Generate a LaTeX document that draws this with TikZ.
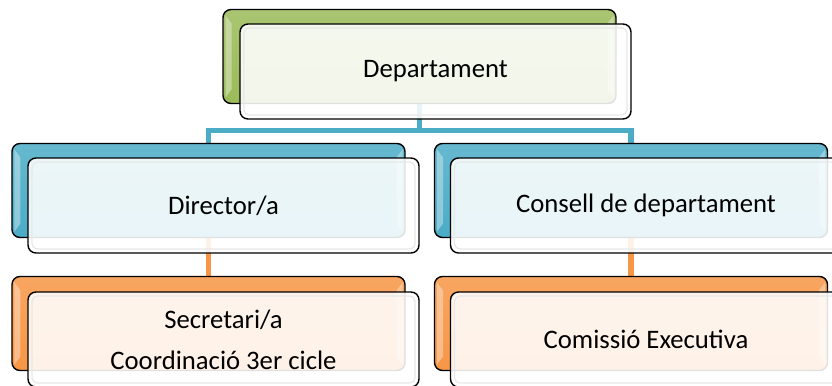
\documentclass[tikz,border=0pt]{standalone}
\usepackage{fontspec}
\setmainfont{Carlito}
\usetikzlibrary{calc,backgrounds}
\definecolor{cgreen}{HTML}{9BBB59}
\definecolor{cblue}{HTML}{4BACC6}
\definecolor{corange}{HTML}{F79646}
\tikzset{
  backbox/.style={rectangle, rounded corners=8bp, draw=black, line width=1.4bp,
    minimum width=393bp, minimum height=94bp, inner sep=0pt, outer sep=0pt,
    top color=#1!85!white, bottom color=#1},
  frontbox/.style={rectangle, rounded corners=8bp, draw=black, line width=1.4bp,
    minimum width=391bp, minimum height=95bp, inner sep=0pt, outer sep=0pt,
    fill=white, fill opacity=0.88, text opacity=1,
    font=\fontsize{26.7bp}{41bp}\selectfont, align=center},
  conn/.style={line width=5.5bp, draw=#1},
  bevel/.style={fill=white, fill opacity=0.35},
  innerline/.style={draw=black!9, line width=1.2bp, rounded corners=6bp},
}
\newcommand{\bevelbox}[1]{%
  \fill[bevel] ($(#1.north west)+(2.5,6)$) -- ++(6,8) -- ($(#1.south west)+(8.5,-14)$) -- ++(-6,8) -- cycle;
  \fill[bevel] ($(#1.north east)+(-2.5,6)$) -- ++(-6,8) -- ($(#1.south east)+(-8.5,-14)$) -- ++(6,8) -- cycle;
}
\newcommand{\innerbox}[1]{%
  \draw[innerline] ($(#1.south west)+(4,-4)$) rectangle ($(#1.north east)+(-4,4)$);
}
\begin{document}
\begin{tikzpicture}[x=1bp,y=-1bp]
\useasboundingbox (0,0) rectangle (832,385);
\clip (0,0) rectangle (832,385);
% back boxes
\node[backbox=cgreen]  (depB) at (419.5,56.5) {};
\node[backbox=cblue]   (dirB) at (208.5,190.5) {};
\node[backbox=cblue]   (conB) at (631,190.5) {};
\node[backbox=corange] (secB) at (208.5,323.5) {};
\node[backbox=corange] (comB) at (631,323.5) {};
\bevelbox{depB}\bevelbox{dirB}\bevelbox{conB}\bevelbox{secB}\bevelbox{comB}
% front boxes
\node[frontbox] (dep) at (435.5,71.5) {Departament};
\node[frontbox] (dir) at (223.5,205.5) {Director/a};
\node[frontbox] (con) at (646,205.5) {Consell de departament};
\node[frontbox] (sec) at (223.5,339.5) {Secretari/a\\Coordinació 3er cicle};
\node[frontbox] (com) at (646,339.5) {Comissió Executiva};
\innerbox{dep}\innerbox{dir}\innerbox{con}\innerbox{sec}\innerbox{com}
% connectors
\begin{scope}[on background layer]
  \fill[white] (0,0) rectangle (832,385);
  \coordinate (j) at ($(depB.south)+(0,27)$);
  \draw[conn=cblue] (depB.south) -- (j) -| (dirB.north);
  \draw[conn=cblue] (j) -| (conB.north);
  \draw[conn=corange] (dirB.south) -- (secB.north);
  \draw[conn=corange] (conB.south) -- (comB.north);
\end{scope}
\end{tikzpicture}
\end{document}
